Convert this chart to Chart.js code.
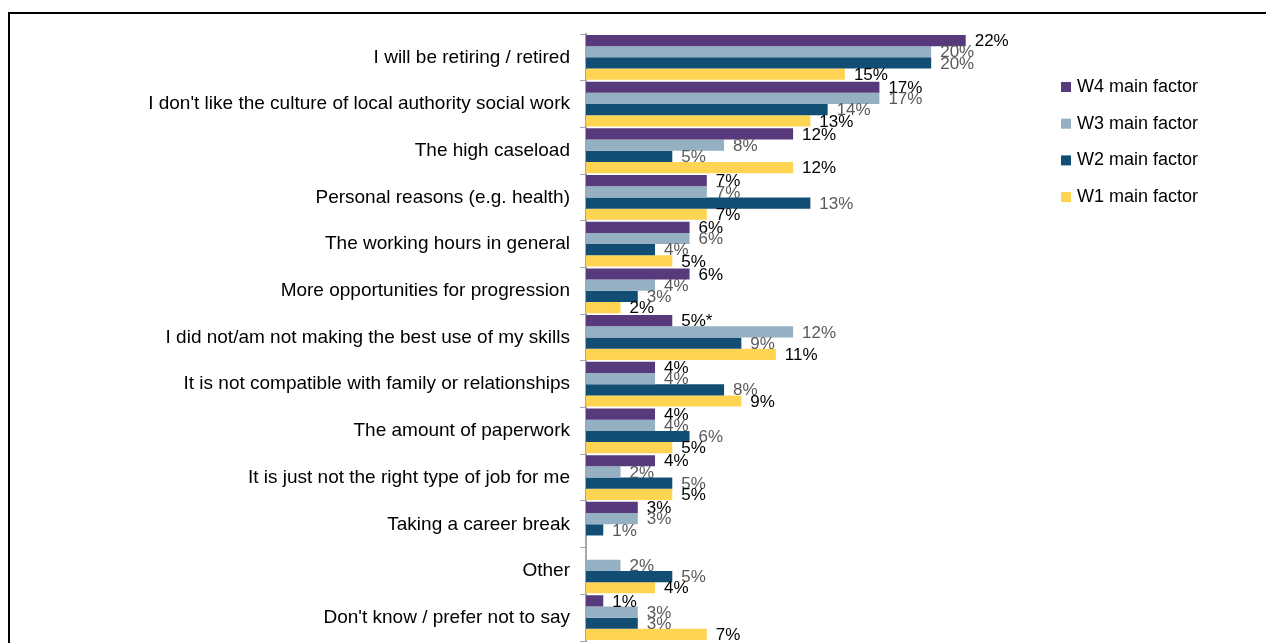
<!DOCTYPE html>
<html>
<head>
<meta charset="utf-8">
<script src="https://cdn.jsdelivr.net/npm/chart.js@4"></script>
<style>
  html, body { margin: 0; padding: 0; background: #fff; overflow: hidden; }
  #wrap { position: relative; width: 1266px; height: 643px; }
  #frame { position: absolute; left: 8px; top: 12px; right: 0; bottom: -4px;
           border-left: 2px solid #000; border-top: 2px solid #000; }
  #chart { position: absolute; left: 0; top: 0; }
</style>
</head>
<body>
<div id="wrap">
  <div id="frame"></div>
  <canvas id="chart" width="1266" height="643"></canvas>
</div>
<script>
// Motivos principales para dejar el puesto, por oleada (%)
const categories = [
    'I will be retiring / retired',
    "I don't like the culture of local authority social work",
    'The high caseload',
    'Personal reasons (e.g. health)',
    'The working hours in general',
    'More opportunities for progression',
    'I did not/am not making the best use of my skills',
    'It is not compatible with family or relationships',
    'The amount of paperwork',
    'It is just not the right type of job for me',
    'Taking a career break',
    'Other',
    "Don't know / prefer not to say"
];

const w4Values = [22, 17, 12, 7, 6, 6, 5, 4, 4, 4, 3, null, 1];
const w3Values = [20, 17, 8, 7, 6, 4, 12, 4, 4, 2, 3, 2, 3];
const w2Values = [20, 14, 5, 13, 4, 3, 9, 8, 6, 5, 1, 5, 3];
const w1Values = [15, 13, 12, 7, 5, 2, 11, 9, 5, 5, null, 4, 7];

// nota al pie en la etiqueta de W4 (5%*)
const w4LabelSuffix = ['', '', '', '', '', '', '*', '', '', '', '', '', ''];

const seriesNames = ['W4 main factor', 'W3 main factor', 'W2 main factor', 'W1 main factor'];
const seriesColors = ['#573A7B', '#95B0C3', '#124E74', '#FFD452'];
const labelColors = ['#000000', '#595959', '#595959', '#000000'];

const xMax = 27;

// Etiquetas de valor a la derecha de cada barra
const valueLabels = {
    id: 'valueLabels',
    afterDatasetsDraw(chart) {
        const ctx = chart.ctx;
        ctx.save();
        ctx.font = '17px "Liberation Sans", Arial, sans-serif';
        ctx.textAlign = 'left';
        ctx.textBaseline = 'middle';
        chart.data.datasets.forEach((ds, i) => {
            const meta = chart.getDatasetMeta(i);
            meta.data.forEach((bar, j) => {
                const v = ds.data[j];
                if (v === null || v === undefined) return;
                let txt = v + '%';
                if (i === 0) txt += w4LabelSuffix[j];
                ctx.fillStyle = labelColors[i];
                ctx.fillText(txt, bar.x + 9, bar.y + 1);
            });
        });
        ctx.restore();
    }
};

// Leyenda dibujada a mano (arriba a la derecha)
const sideLegend = {
    id: 'sideLegend',
    afterDraw(chart) {
        const ctx = chart.ctx;
        ctx.save();
        ctx.font = '18px "Liberation Sans", Arial, sans-serif';
        ctx.textAlign = 'left';
        ctx.textBaseline = 'middle';
        chart.data.datasets.forEach((ds, i) => {
            const y = 87 + i * 36.7;
            ctx.fillStyle = ds.backgroundColor;
            ctx.fillRect(1061, y - 5, 10, 10);
            ctx.fillStyle = '#000';
            ctx.fillText(ds.label, 1077, y);
        });
        ctx.restore();
    }
};

const ctx = document.getElementById('chart');
const chart = new Chart(ctx, {
    type: 'bar',
    data: {
        labels: categories,
        datasets: [
            { label: seriesNames[0], data: w4Values, backgroundColor: seriesColors[0] },
            { label: seriesNames[1], data: w3Values, backgroundColor: seriesColors[1] },
            { label: seriesNames[2], data: w2Values, backgroundColor: seriesColors[2] },
            { label: seriesNames[3], data: w1Values, backgroundColor: seriesColors[3] }
        ]
    },
    options: {
        indexAxis: 'y',
        responsive: false,
        animation: false,
        datasets: {
            bar: {
                categoryPercentage: 0.96,
                barPercentage: 1.0,
                borderWidth: 0
            }
        },
        layout: {
            padding: { left: 0, top: 34, right: 1266 - 586 - Math.round(17.27 * xMax), bottom: 2 }
        },
        plugins: {
            legend: { display: false },
            tooltip: { enabled: false }
        },
        scales: {
            x: {
                display: false,
                min: 0,
                max: xMax
            },
            y: {
                afterFit(scale) {
                    scale.width = 586;
                    scale.paddingTop = 0;
                    scale.paddingBottom = 0;
                },
                grid: {
                    offset: true,
                    drawOnChartArea: false,
                    drawTicks: true,
                    tickLength: 6,
                    color: '#A6A6A6',
                    lineWidth: 1
                },
                border: { display: true, color: '#A6A6A6', width: 2 },
                ticks: {
                    color: '#000',
                    padding: 10,
                    autoSkip: false,
                    font: { family: '"Liberation Sans", Arial, sans-serif', size: 19 }
                }
            }
        }
    },
    plugins: [valueLabels, sideLegend]
});
</script>
</body>
</html>
